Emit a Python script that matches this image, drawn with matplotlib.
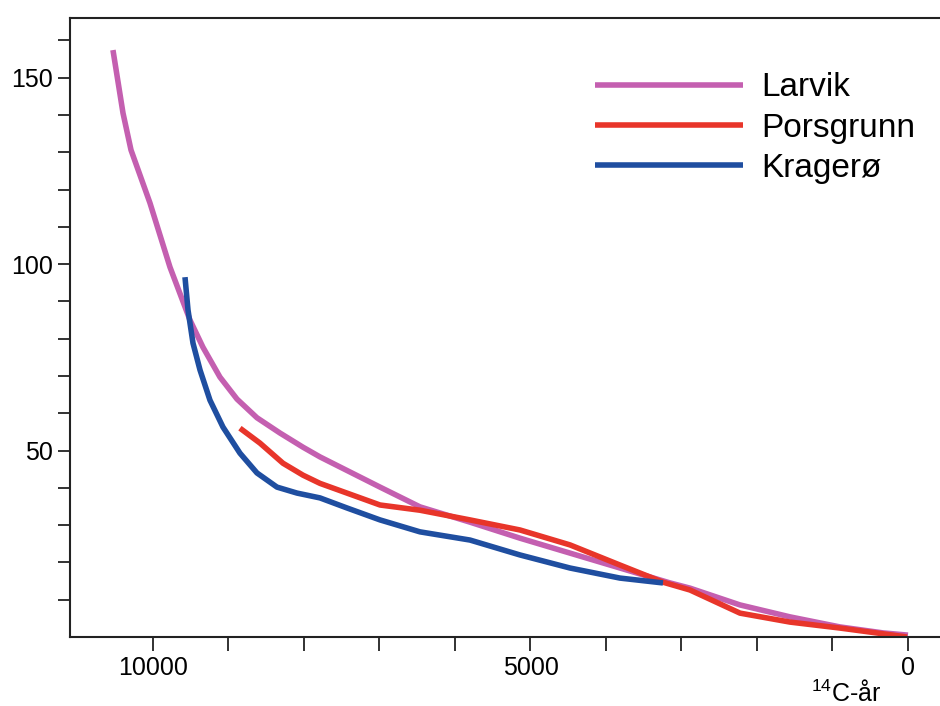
import numpy as np
import matplotlib
matplotlib.use('Agg')
import matplotlib.pyplot as plt
from matplotlib.ticker import FixedLocator

plt.rcParams['font.family'] = ['Liberation Sans', 'DejaVu Sans']

# 14C-år (x) vs. høyde over havet (y)
larvik_x = [10530, 10397, 10291, 10040, 9775, 9510, 9338, 9113, 8887, 8623, 8318,
            8013, 7788, 6993, 6464, 5801, 5139, 4477, 3815, 3152, 2887, 2225,
            1563, 901, 331, 0]
larvik_y = [157.4, 140.5, 130.6, 116.4, 99.2, 85.0, 77.7, 69.7, 63.8, 58.8, 54.7,
            50.9, 48.3, 40.2, 34.9, 30.8, 26.5, 22.5, 18.5, 14.5, 13.1, 8.6,
            5.4, 2.7, 1.1, 0.5]

pors_x = [8848, 8583, 8278, 8013, 7788, 6993, 6464, 5801, 5139, 4477,
          3815, 3245, 2887, 2225, 1563, 901, 13]
pors_y = [56.0, 52.0, 46.6, 43.4, 41.2, 35.4, 34.0, 31.4, 28.7, 24.7,
          19.3, 14.7, 12.6, 6.4, 4.0, 2.4, 0.0]

krag_x = [9576, 9536, 9470, 9377, 9245, 9073, 8848, 8623, 8358, 8093, 7788,
          7430, 6993, 6464, 5801, 5139, 4477, 3815, 3245]
krag_y = [96.5, 87.7, 78.8, 71.6, 63.5, 56.3, 49.3, 44.0, 40.2, 38.6, 37.3,
          34.6, 31.4, 28.2, 26.0, 22.0, 18.5, 15.8, 14.5]

series = [('Larvik', larvik_x, larvik_y, '#c45fb0'),
          ('Porsgrunn', pors_x, pors_y, '#e8352a'),
          ('Kragerø', krag_x, krag_y, '#1f4ea0')]

fig = plt.figure(figsize=(9.4, 7.06), dpi=100)
ax = fig.add_axes([70 / 940, 69 / 706, 870 / 940, 619 / 706])

for name, xs, ys, c in series:
    ax.plot(xs, ys, color=c, lw=4.0, label=name, solid_capstyle='butt',
            solid_joinstyle='round')

ax.set_xlim(11099, -424)
ax.set_ylim(0, 166)

ax.xaxis.set_major_locator(FixedLocator([0, 5000, 10000]))
ax.xaxis.set_minor_locator(FixedLocator(np.arange(0, 10001, 1000)))
ax.yaxis.set_major_locator(FixedLocator([50, 100, 150]))
ax.yaxis.set_minor_locator(FixedLocator(np.arange(10, 161, 10)))
ax.tick_params(which='both', direction='out', width=1.3, color='#222222')
ax.tick_params(axis='x', which='both', length=10, pad=4, labelsize=18)
ax.tick_params(axis='y', which='both', length=9, pad=3.5, labelsize=18)

ax.spines['right'].set_visible(False)
for s in ['left', 'top', 'bottom']:
    ax.spines[s].set_linewidth(1.5)
    ax.spines[s].set_color('#222222')

leg = ax.legend(loc='upper left', bbox_to_anchor=(0.603, 0.912), frameon=False,
                fontsize=24, handlelength=4.44, handletextpad=0.57,
                labelspacing=0.28, borderaxespad=0, borderpad=0)
for ln in leg.get_lines():
    ln.set_linewidth(4.0)

fig.text(846 / 940, 4 / 706, r'$^{\mathregular{14}}$C-år', ha='center',
         va='baseline', fontsize=18)

fig.savefig('out.png', dpi=100)
